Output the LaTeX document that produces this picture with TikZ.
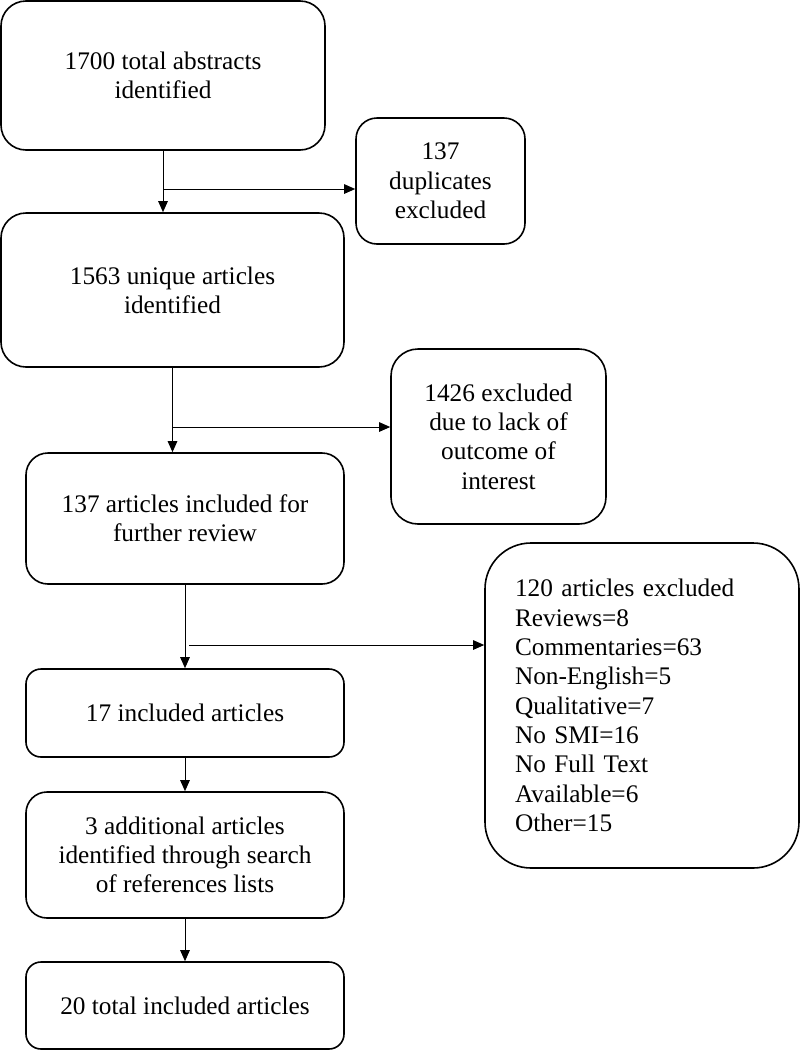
\documentclass[tikz,border=0pt]{standalone}
\usepackage{fontspec}
\setmainfont{Liberation Serif}
\usetikzlibrary{arrows.meta}
\begin{document}
\begin{tikzpicture}[x=1pt,y=-1pt,
  box/.style={draw, line width=1.6pt, rounded corners=#1, align=center, inner sep=0pt,
    font={\fontsize{25.3pt}{29.3pt}\selectfont}},
  conn/.style={line width=1pt, -{Triangle[length=11pt,width=9.5pt]}}]
\useasboundingbox (0,0) rectangle (800,1050);

\node[box=25pt, minimum width=324pt, minimum height=149pt] (b1) at (163,75.5)
  {1700 total abstracts\\identified};
\node[box=21pt, minimum width=169pt, minimum height=126pt] (dup) at (440.5,181)
  {137\\duplicates\\excluded};
\node[box=25pt, minimum width=343pt, minimum height=154pt] (b2) at (172.5,290)
  {1563 unique articles\\identified};
\node[box=27pt, minimum width=215pt, minimum height=175pt] (exa) at (498.5,436.5)
  {1426 excluded\\due to lack of\\outcome of\\interest};
\node[box=22pt, minimum width=318pt, minimum height=131pt] (b3) at (185,518.5)
  {137 articles included for\\further review};
\node[box=46pt, minimum width=314pt, minimum height=325pt, text width=254pt,
      align=left, inner xsep=30pt] (exb) at (642,705.5)
  {120 articles excluded\\Reviews=8\\Commentaries=63\\Non-English=5\\Qualitative=7\\No SMI=16\\No Full Text\\Available=6\\Other=15};
\node[box=15pt, minimum width=318pt, minimum height=88pt] (b4) at (185,713)
  {17 included articles};
\node[box=21pt, minimum width=318pt, minimum height=126pt] (b5) at (185,855)
  {3 additional articles\\identified through search\\of references lists};
\node[box=15pt, minimum width=318pt, minimum height=87pt] (b6) at (185,1005.5)
  {20 total included articles};

\coordinate (j1) at (163,189);
\coordinate (j2) at (173,427);
\coordinate (j3) at (189,645);

\draw[conn] (b1.south) -- (b1.south |- b2.north);
\draw[conn] (j1) -- (j1 -| dup.west);
\draw[conn] (b2.south) -- (b2.south |- b3.north);
\draw[conn] (j2) -- (j2 -| exa.west);
\draw[conn] (b3.south) -- (b4.north);
\draw[conn] (j3) -- (j3 -| exb.west);
\draw[conn] (b4.south) -- (b5.north);
\draw[conn] (b5.south) -- (b6.north);
\end{tikzpicture}
\end{document}
